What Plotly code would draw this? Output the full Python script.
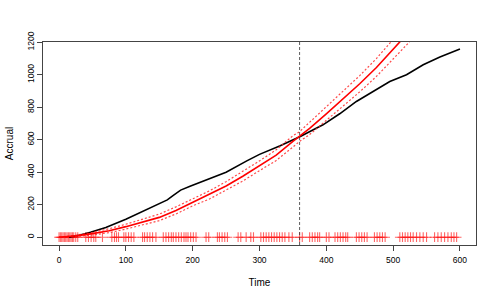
import plotly.graph_objects as go

# Observed cumulative accrual (black)
obs_time = [15, 20, 30, 47, 70, 100, 122, 150, 162, 170, 182, 197, 231, 250, 281, 300,
            331, 361, 395, 420, 445, 470, 495, 520, 545, 570, 600]
obs_count = [0, 3, 12, 30, 60, 110, 152, 205, 230, 255, 290, 316, 370, 400, 470, 510,
             563, 620, 692, 760, 836, 900, 959, 1000, 1062, 1110, 1159]

# Predicted accrual (red) with bounds
pred_time = [0, 25, 50, 75, 100, 125, 150, 175, 200, 225, 250, 275, 300, 325, 350, 360,
             375, 400, 425, 450, 475, 500, 525]
pred_mid = [0, 8, 22, 40, 65, 92, 122, 165, 215, 260, 315, 375, 440, 505, 590, 620,
            670, 760, 850, 945, 1045, 1155, 1270]
pred_upper = [0, 12, 30, 52, 80, 110, 142, 187, 237, 285, 342, 404, 470, 538, 625, 650,
              708, 800, 895, 995, 1100, 1215, 1335]
pred_lower = [0, 4, 14, 28, 50, 74, 102, 143, 193, 235, 288, 346, 410, 472, 555, 590,
              632, 720, 805, 895, 990, 1095, 1205]

# Rug of accrual times
rug_times = [0, 2, 4, 6, 8, 10, 12, 14, 16, 18, 20, 22, 25, 28, 40, 44, 48, 52, 55, 65,
             79, 83, 86, 89, 97, 100, 104, 108, 112, 125, 128, 132, 136, 140, 145,
             156, 160, 164, 168, 171, 175, 179, 183, 187, 190, 193, 197, 201, 205,
             220, 224, 237, 240, 244, 248, 252, 268, 272, 280, 287, 291,
             302, 306, 310, 314, 318, 322, 326, 330, 334, 338, 344, 349, 360, 364,
             375, 379, 383, 387, 390, 400, 404, 413, 417, 421, 425, 429, 432,
             445, 449, 453, 457, 461, 472, 476, 480, 484, 488,
             510, 514, 518, 522, 526, 530, 535, 540, 545, 550,
             562, 567, 572, 577, 582, 587, 591, 595]
rug_level = [0] * len(rug_times)

cutoff_time = 360

x_ticks = [0, 100, 200, 300, 400, 500, 600]
y_ticks = [0, 200, 400, 600, 800, 1000, 1200]

fig = go.Figure()

fig.add_trace(go.Scatter(x=rug_times, y=rug_level, mode="markers",
                         marker=dict(symbol="cross-thin", size=7,
                                     line=dict(color="rgba(255,0,0,0.6)", width=1.1)),
                         hoverinfo="skip"))

fig.add_trace(go.Scatter(x=obs_time, y=obs_count, mode="lines",
                         line=dict(color="black", width=1.6)))
fig.add_trace(go.Scatter(x=pred_time, y=pred_upper, mode="lines",
                         line=dict(color="rgba(255,40,40,0.85)", width=1.2, dash="2px,2px")))
fig.add_trace(go.Scatter(x=pred_time, y=pred_lower, mode="lines",
                         line=dict(color="rgba(255,40,40,0.85)", width=1.2, dash="2px,2px")))
fig.add_trace(go.Scatter(x=pred_time, y=pred_mid, mode="lines",
                         line=dict(color="red", width=1.6)))

fig.add_shape(type="line", x0=cutoff_time, x1=cutoff_time, y0=0, y1=1,
              xref="x", yref="paper", line=dict(color="#333", width=0.8, dash="3px,2px"))

font = dict(family="Liberation Sans, Arial, sans-serif", size=8.5, color="black")

fig.update_layout(
    width=498, height=298,
    margin=dict(l=42.5, r=22, t=42, b=53),
    paper_bgcolor="white", plot_bgcolor="white",
    showlegend=False, font=font, hovermode=False,
    xaxis=dict(range=[-24, 624], tickvals=x_ticks, ticks="outside", ticklen=5,
               tickcolor="#444", showgrid=False, zeroline=False, automargin=False,
               showline=True, linecolor="#444", linewidth=1, mirror=True,
               title=dict(text="Time", standoff=14), ticklabelstandoff=2),
    yaxis=dict(range=[-48, 1202], tickvals=y_ticks, ticks="outside", ticklen=5,
               tickcolor="#444", showgrid=False, zeroline=False, tickangle=-90,
               automargin=False,
               showline=True, linecolor="#444", linewidth=1, mirror=True,
               title=dict(text="Accrual", standoff=10)),
)

fig.write_html("out.html", config={"displayModeBar": False, "staticPlot": True},
               post_script="document.body.style.margin='0';document.body.style.overflow='hidden';")
